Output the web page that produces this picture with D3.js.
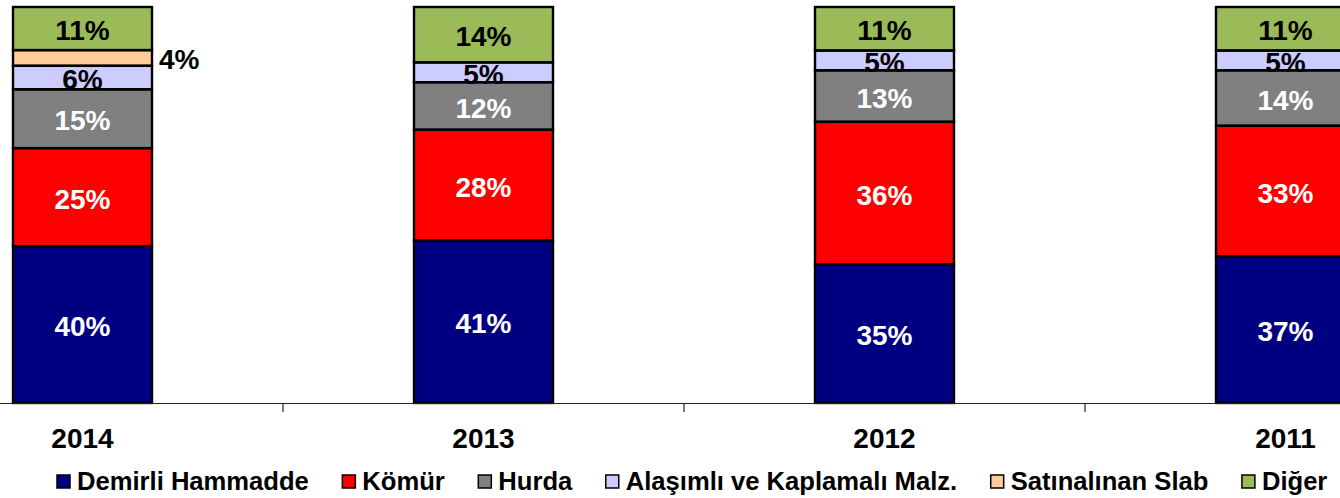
<!DOCTYPE html>
<html>
<head>
<meta charset="utf-8">
<script src="https://cdn.jsdelivr.net/npm/d3@7/dist/d3.min.js"></script>
<style>
  html, body { margin: 0; padding: 0; background: #fff; overflow: hidden; }
  svg { display: block; font-family: "Liberation Sans", Arial, sans-serif; font-weight: bold; }
</style>
</head>
<body>
<svg id="chart" width="1340" height="498"></svg>
<script>
// Years shown left to right
const years = ["2014", "2013", "2012", "2011"];

// Cost components (stack order bottom to top)
const seriesNames = ["Demirli Hammadde", "Kömür", "Hurda", "Alaşımlı ve Kaplamalı Malz.", "Satınalınan Slab", "Diğer"];

// Share of each component per year, in percent
const demirli   = [40, 41, 35, 37];
const komur     = [25, 28, 36, 33];
const hurda     = [15, 12, 13, 14];
const alasimli  = [6, 5, 5, 5];
const slab      = [4, 0, 0, 0];
const diger     = [11, 14, 11, 11];

const seriesValues = [demirli, komur, hurda, alasimli, slab, diger];
const colors = ["#000080", "#FF0000", "#808080", "#CCCCFF", "#FFCC99", "#9BBB59"];
const labelColors = ["#fff", "#fff", "#fff", "#000", "#000", "#000"];

const svg = d3.select("#chart");

const rows = years.map((y, i) => {
  const r = { year: y };
  seriesNames.forEach((s, k) => { r[s] = seriesValues[k][i]; });
  return r;
});
// 100% stacked: each year is scaled to its own total
const stacked = d3.stack().keys(seriesNames).offset(d3.stackOffsetExpand)(rows);
const valueOf = (k, p) => seriesValues[k][years.indexOf(p.data.year)];

const padIn = 0.6534;
const x = d3.scaleBand().domain(years).range([-118, 1486])
  .paddingInner(padIn).paddingOuter(padIn / 2);
const y = d3.scaleLinear().domain([0, 1]).range([403, 7]);

// bar fills
stacked.forEach((layer, k) => {
  svg.append("g").selectAll("rect")
    .data(layer.filter(p => p[1] - p[0] > 0))
    .join("rect")
    .attr("x", p => x(p.data.year))
    .attr("width", x.bandwidth())
    .attr("y", p => y(p[1]))
    .attr("height", p => y(p[0]) - y(p[1]))
    .attr("fill", colors[k]);
});

// value labels
const labels = svg.append("g").attr("font-size", 28);
stacked.forEach((layer, k) => {
  layer.forEach(p => {
    const v = valueOf(k, p);
    if (v <= 0) return;
    const mid = (y(p[0]) + y(p[1])) / 2;
    const outside = seriesNames[k] === "Satınalınan Slab";
    labels.append("text")
      .attr("x", outside ? x(p.data.year) + x.bandwidth() + 7 : x(p.data.year) + x.bandwidth() / 2)
      .attr("y", mid + 11.5)
      .attr("text-anchor", outside ? "start" : "middle")
      .attr("fill", labelColors[k])
      .text(v + "%");
  });
});

// segment outlines on top
stacked.forEach((layer, k) => {
  svg.append("g").selectAll("rect")
    .data(layer.filter(p => p[1] - p[0] > 0))
    .join("rect")
    .attr("x", p => x(p.data.year))
    .attr("width", x.bandwidth())
    .attr("y", p => y(p[1]))
    .attr("height", p => y(p[0]) - y(p[1]))
    .attr("fill", "none")
    .attr("stroke", "#000")
    .attr("stroke-width", 2.4);
});

// category axis
const axisG = svg.append("g");
axisG.append("line")
  .attr("x1", 0).attr("x2", 1340)
  .attr("y1", 403.5).attr("y2", 403.5)
  .attr("stroke", "#222").attr("stroke-width", 1.2);
const step = x.step();
years.slice(1).forEach(yr => {
  const bx = x(yr) - step * padIn / 2;
  axisG.append("line")
    .attr("x1", bx).attr("x2", bx)
    .attr("y1", 403).attr("y2", 412)
    .attr("stroke", "#222").attr("stroke-width", 1.2);
});
axisG.selectAll("text.cat").data(years).join("text")
  .attr("class", "cat")
  .attr("x", d => x(d) + x.bandwidth() / 2)
  .attr("y", 448)
  .attr("text-anchor", "middle")
  .attr("font-size", 28)
  .attr("fill", "#000")
  .text(d => d);

// legend
const legend = svg.append("g").attr("font-size", 25.6);
let lx = 57;
seriesNames.forEach((s, k) => {
  legend.append("rect")
    .attr("x", lx).attr("y", 475)
    .attr("width", 13).attr("height", 13)
    .attr("fill", colors[k])
    .attr("stroke", "#000").attr("stroke-width", 1.5);
  const t = legend.append("text")
    .attr("x", lx + 20).attr("y", 490)
    .attr("fill", "#000")
    .text(s);
  lx += 20 + t.node().getComputedTextLength() + 33.5;
});
</script>
</body>
</html>
